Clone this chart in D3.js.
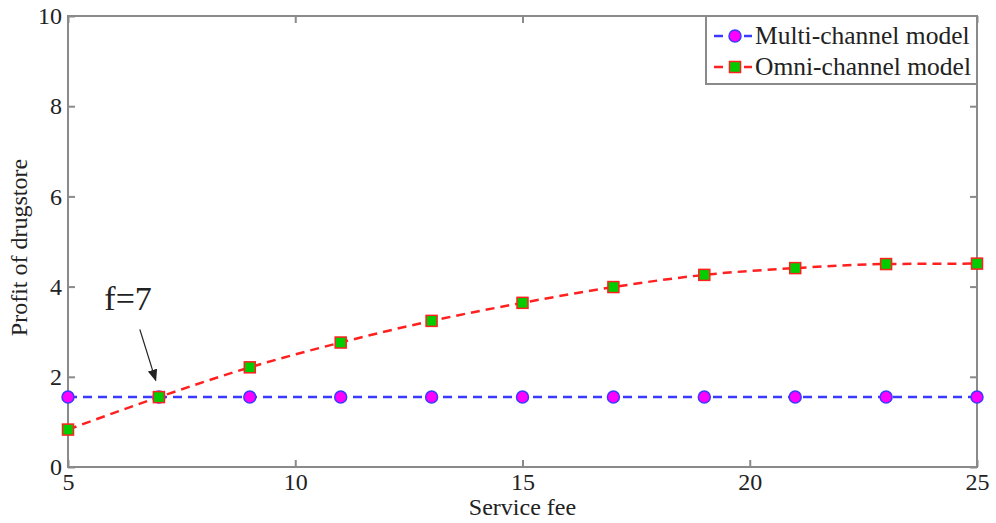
<!DOCTYPE html>
<html>
<head>
<meta charset="utf-8">
<script src="https://cdn.jsdelivr.net/npm/d3@7"></script>
<style>
  body { margin: 0; background: #fff; }
  text { font-family: "Liberation Serif", "Times New Roman", serif; }
</style>
</head>
<body>
<div id="chart"></div>
<script>
// data
const fees = [5, 7, 9, 11, 13, 15, 17, 19, 21, 23, 25];
const multiProfit = [1.55, 1.55, 1.55, 1.55, 1.55, 1.55, 1.55, 1.55, 1.55, 1.55, 1.55];
const omniProfit = [0.83, 1.55, 2.21, 2.76, 3.24, 3.64, 3.99, 4.26, 4.41, 4.50, 4.51];
const xTicks = [5, 10, 15, 20, 25];
const yTicks = [0, 2, 4, 6, 8, 10];
const seriesNames = ["Multi-channel model", "Omni-channel model"];

const W = 996, H = 523;
const margin = { top: 16, right: 19, bottom: 56, left: 68 };
const width = W - margin.left - margin.right;
const height = H - margin.top - margin.bottom;

const svg = d3.select("#chart").append("svg")
    .attr("width", W)
    .attr("height", H);

const g = svg.append("g")
    .attr("transform", `translate(${margin.left},${margin.top})`);

const x = d3.scaleLinear().domain([5, 25]).range([0, width]);
const y = d3.scaleLinear().domain([0, 10]).range([height, 0]);

const axisColor = "#8a8a8a";
const textColor = "#222";
const serif = '"Liberation Serif", "Times New Roman", serif';

// box
g.append("rect")
    .attr("width", width)
    .attr("height", height)
    .attr("fill", "none")
    .attr("stroke", axisColor)
    .attr("stroke-width", 2);

// axes with inward ticks
const styleAxis = sel => {
    sel.attr("font-family", serif).attr("font-size", 24);
    sel.select(".domain").remove();
    sel.selectAll(".tick line").attr("stroke", axisColor).attr("stroke-width", 2);
    sel.selectAll("text")
        .style("font-family", serif)
        .style("font-size", "24px")
        .attr("fill", textColor);
};

g.append("g")
    .attr("transform", `translate(0,${height})`)
    .call(d3.axisBottom(x).tickValues(xTicks).tickSize(-7).tickPadding(6))
    .call(styleAxis);
g.append("g")
    .call(d3.axisTop(x).tickValues(xTicks).tickSize(-7).tickFormat(""))
    .call(styleAxis);
g.append("g")
    .call(d3.axisLeft(y).tickValues(yTicks).tickSize(-7).tickPadding(6))
    .call(styleAxis);
g.append("g")
    .attr("transform", `translate(${width},0)`)
    .call(d3.axisRight(y).tickValues(yTicks).tickSize(-7).tickFormat(""))
    .call(styleAxis);

// axis titles
g.append("text")
    .attr("x", width / 2)
    .attr("y", height + 48)
    .attr("text-anchor", "middle")
    .style("font-size", "24px")
    .attr("fill", textColor)
    .text("Service fee");

g.append("text")
    .attr("transform", `translate(${-margin.left + 27},${height / 2 + 6}) rotate(-90)`)
    .attr("text-anchor", "middle")
    .style("font-size", "24px")
    .attr("fill", textColor)
    .text("Profit of drugstore");

// lines
const line = d3.line().x(d => x(d[0])).y(d => y(d[1]));
const multiData = fees.map((f, i) => [f, multiProfit[i]]);
const omniData = fees.map((f, i) => [f, omniProfit[i]]);

g.append("path")
    .datum(multiData)
    .attr("d", line)
    .attr("fill", "none")
    .attr("stroke", "#3a3aff")
    .attr("stroke-width", 2.5)
    .attr("stroke-dasharray", "9,6");

g.append("path")
    .datum(omniData)
    .attr("d", d3.line().curve(d3.curveMonotoneX).x(d => x(d[0])).y(d => y(d[1])))
    .attr("fill", "none")
    .attr("stroke", "#ff2020")
    .attr("stroke-width", 2.5)
    .attr("stroke-dasharray", "9,6");

// markers
g.selectAll(".m-multi")
    .data(multiData)
    .enter().append("circle")
    .attr("class", "m-multi")
    .attr("cx", d => x(d[0]))
    .attr("cy", d => y(d[1]))
    .attr("r", 6)
    .attr("fill", "#ff00ff")
    .attr("stroke", "#3a3aff")
    .attr("stroke-width", 1.5);

g.selectAll(".m-omni")
    .data(omniData)
    .enter().append("rect")
    .attr("class", "m-omni")
    .attr("x", d => x(d[0]) - 5.5)
    .attr("y", d => y(d[1]) - 5.5)
    .attr("width", 11)
    .attr("height", 11)
    .attr("fill", "#00cc00")
    .attr("stroke", "#ff2020")
    .attr("stroke-width", 1.5);

// annotation f=7
svg.append("defs").append("marker")
    .attr("id", "arrow")
    .attr("viewBox", "0 0 10 10")
    .attr("refX", 9).attr("refY", 5)
    .attr("markerWidth", 10).attr("markerHeight", 10)
    .attr("orient", "auto")
    .append("path")
    .attr("d", "M0,1 L10,5 L0,9 Z")
    .attr("fill", "#222");

g.append("text")
    .attr("x", x(5.8))
    .attr("y", y(3.48))
    .style("font-size", "34px")
    .attr("fill", textColor)
    .text("f=7");

g.append("line")
    .attr("x1", x(6.58)).attr("y1", y(3.05))
    .attr("x2", x(6.93)).attr("y2", y(1.92))
    .attr("stroke", "#222")
    .attr("stroke-width", 1.2)
    .attr("marker-end", "url(#arrow)");

// legend
const legend = g.append("g").attr("transform", `translate(${width - 271},0)`);
legend.append("rect")
    .attr("width", 271)
    .attr("height", 68)
    .attr("fill", "#fff")
    .attr("stroke", axisColor)
    .attr("stroke-width", 2);

seriesNames.forEach((name, i) => {
    const ly = 20 + i * 31;
    const row = legend.append("g").attr("transform", `translate(0,${ly})`);
    row.append("line")
        .attr("x1", 8).attr("x2", 46)
        .attr("stroke", i === 0 ? "#3a3aff" : "#ff2020")
        .attr("stroke-width", 2.5)
        .attr("stroke-dasharray", "9,6");
    if (i === 0) {
        row.append("circle").attr("cx", 29).attr("r", 6)
            .attr("fill", "#ff00ff").attr("stroke", "#3a3aff").attr("stroke-width", 1.5);
    } else {
        row.append("rect").attr("x", 23.5).attr("y", -5.5).attr("width", 11).attr("height", 11)
            .attr("fill", "#00cc00").attr("stroke", "#ff2020").attr("stroke-width", 1.5);
    }
    row.append("text")
        .attr("x", 49)
        .attr("y", 8)
        .style("font-size", "25.5px")
        .attr("fill", textColor)
        .text(name);
});
</script>
</body>
</html>
